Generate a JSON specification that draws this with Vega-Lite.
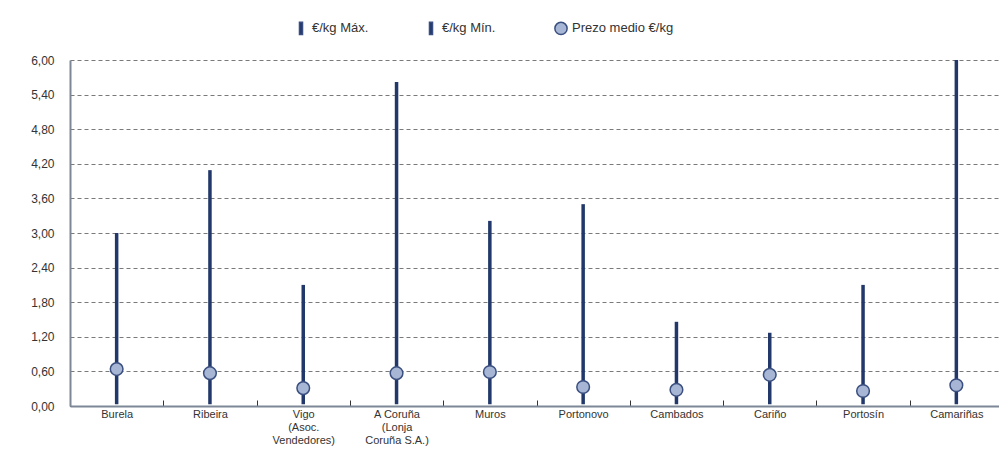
{
  "$schema": "https://vega.github.io/schema/vega-lite/v6.json",
  "width": 933,
  "height": 346,
  "autosize": "none",
  "padding": {"left": 70, "top": 60, "right": 0, "bottom": 69},
  "background": "white",
  "config": {"view": {"stroke": null}, "font": "Liberation Sans"},
  "data": {
    "values": [
      {"lonxa": "Burela", "min": 0.03, "max": 3.0, "medio": 0.64},
      {"lonxa": "Ribeira", "min": 0.03, "max": 4.09, "medio": 0.57},
      {"lonxa": "Vigo (Asoc. Vendedores)", "min": 0.03, "max": 2.1, "medio": 0.31},
      {"lonxa": "A Coruña (Lonja Coruña S.A.)", "min": 0.03, "max": 5.62, "medio": 0.57},
      {"lonxa": "Muros", "min": 0.03, "max": 3.21, "medio": 0.59},
      {"lonxa": "Portonovo", "min": 0.03, "max": 3.5, "medio": 0.33},
      {"lonxa": "Cambados", "min": 0.03, "max": 1.46, "medio": 0.28},
      {"lonxa": "Cariño", "min": 0.03, "max": 1.27, "medio": 0.54},
      {"lonxa": "Portosín", "min": 0.03, "max": 2.1, "medio": 0.26},
      {"lonxa": "Camariñas", "min": 0.03, "max": 6.0, "medio": 0.36}
    ]
  },
  "encoding": {
    "x": {
      "field": "lonxa",
      "type": "nominal",
      "sort": null,
      "title": null,
      "axis": {
        "labelAngle": 0,
        "labelFontSize": 11,
        "labelColor": "#333333",
        "labelPadding": 8,
        "tickBand": "extent",
        "tickSize": -6,
        "tickColor": "#333333",
        "tickWidth": 1,
        "domainColor": "#7d8796",
        "domainWidth": 2,
        "labelLimit": 0,
        "labelExpr": "datum.value == 'Vigo (Asoc. Vendedores)' ? ['Vigo', '(Asoc.', 'Vendedores)'] : datum.value == 'A Coruña (Lonja Coruña S.A.)' ? ['A Coruña', '(Lonja', 'Coruña S.A.)'] : datum.value"
      }
    }
  },
  "layer": [
    {
      "mark": {"type": "rule", "color": "#22386a", "strokeWidth": 3.5},
      "encoding": {
        "y": {
          "field": "min",
          "type": "quantitative",
          "scale": {"domain": [0, 6], "nice": false},
          "title": null,
          "axis": {
            "values": [0, 0.6, 1.2, 1.8, 2.4, 3.0, 3.6, 4.2, 4.8, 5.4, 6.0],
            "tickCount": 11,
            "labelOverlap": false,
            "labelExpr": "replace(format(datum.value, '.2f'), '.', ',')",
            "labelFontSize": 12,
            "labelColor": "#333333",
            "ticks": false,
            "labelPadding": 16,
            "domainColor": "#7d8796",
            "domainWidth": 2,
            "grid": true,
            "gridColor": "#7a7a7a",
            "gridDash": [4, 3],
            "gridWidth": 1
          }
        },
        "y2": {"field": "max"}
      }
    },
    {
      "mark": {"type": "point", "filled": true, "size": 160, "stroke": "#3a4f80", "strokeWidth": 1.5, "opacity": 1},
      "encoding": {
        "y": {"field": "medio", "type": "quantitative"},
        "shape": {
          "datum": "Prezo medio €/kg",
          "scale": {
            "domain": ["€/kg Máx.", "€/kg Mín.", "Prezo medio €/kg"],
            "range": ["M-0.25,-1H0.25V1H-0.25Z", "M-0.25,-1H0.25V1H-0.25Z", "circle"]
          },
          "legend": null
        },
        "color": {
          "datum": "Prezo medio €/kg",
          "scale": {
            "domain": ["€/kg Máx.", "€/kg Mín.", "Prezo medio €/kg"],
            "range": ["#22386a", "#22386a", "#a7b6d4"]
          },
          "legend": {
            "title": null,
            "orient": "none",
            "direction": "horizontal",
            "legendX": 224,
            "legendY": -39,
            "labelFontSize": 13,
            "labelColor": "#333333",
            "symbolSize": 150,
            "columnPadding": 55,
            "encode": {
              "symbols": {
                "update": {
                  "shape": {"scale": "shape", "field": "value"},
                  "stroke": {"signal": "datum.value === 'Prezo medio €/kg' ? '#3a4f80' : '#22386a'"},
                  "strokeWidth": {"value": 1}
                }
              }
            }
          }
        }
      }
    }
  ]
}
